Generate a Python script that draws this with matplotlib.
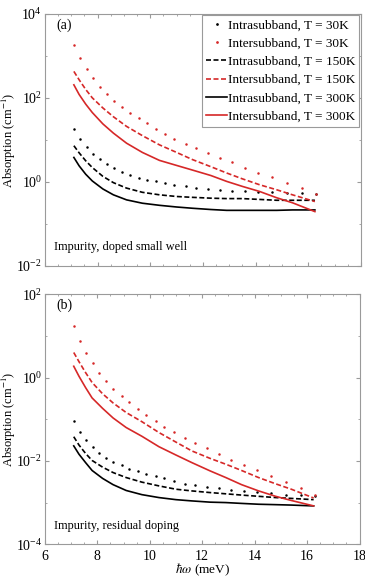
import numpy as np
import matplotlib
matplotlib.use('Agg')
import matplotlib.pyplot as plt
from matplotlib.ticker import LogLocator, MultipleLocator, NullFormatter

plt.rcParams['font.family'] = ['Liberation Serif', 'DejaVu Serif']
plt.rcParams['mathtext.fontset'] = 'stix'

# Energias (meV) das curvas continuas / tracejadas
x_linhas = [7.1, 7.3, 7.55, 7.8, 8.2, 8.6, 9.1, 9.7, 10.35, 11.0, 11.6, 12.3,
            12.9, 13.5, 14.15, 14.8, 15.4, 16.25]
# Energias (meV) dos pontos (T = 30K)
x_pontos = [7.10, 7.35, 7.58, 7.83, 8.08, 8.34, 8.61, 8.93, 9.22, 9.56, 9.87,
            10.23, 10.56, 10.92, 11.36, 11.74, 12.18, 12.63, 13.11, 13.61,
            14.10, 14.64, 15.19, 15.75, 16.31]

# Painel (a): log10 da absorcao (cm^-1)
a_intra_30 = [1.26, 1.03, 0.84, 0.67, 0.54, 0.42, 0.32, 0.23, 0.16, 0.10, 0.05,
              0.01, -0.03, -0.07, -0.11, -0.15, -0.17, -0.19, -0.21, -0.23,
              -0.25, -0.25, -0.27, -0.27, -0.29]
a_inter_30 = [3.26, 2.96, 2.69, 2.47, 2.27, 2.10, 1.93, 1.78, 1.65, 1.52, 1.39,
              1.26, 1.14, 1.02, 0.90, 0.80, 0.68, 0.57, 0.46, 0.34, 0.22, 0.11,
              -0.02, -0.15, -0.29]
a_intra_150 = [0.86, 0.69, 0.50, 0.34, 0.13, -0.02, -0.15, -0.25, -0.31, -0.35,
               -0.37, -0.39, -0.40, -0.40, -0.42, -0.44, -0.44, -0.44]
a_inter_150 = [2.63, 2.43, 2.20, 2.00, 1.76, 1.55, 1.32, 1.10, 0.88, 0.70, 0.53,
               0.36, 0.21, 0.07, -0.07, -0.19, -0.31, -0.47]
a_intra_300 = [0.58, 0.38, 0.18, 0.02, -0.17, -0.31, -0.43, -0.51, -0.56, -0.60,
               -0.63, -0.66, -0.68, -0.68, -0.68, -0.68, -0.67, -0.67]
a_inter_300 = [2.31, 2.08, 1.85, 1.65, 1.38, 1.16, 0.92, 0.70, 0.51, 0.39, 0.28,
               0.15, 0.01, -0.11, -0.23, -0.38, -0.50, -0.71]

# Painel (b): log10 da absorcao (cm^-1)
b_intra_30 = [-1.04, -1.30, -1.51, -1.66, -1.80, -1.92, -2.02, -2.11, -2.19,
              -2.25, -2.31, -2.36, -2.42, -2.49, -2.55, -2.59, -2.63, -2.66,
              -2.70, -2.73, -2.75, -2.78, -2.81, -2.82, -2.84]
b_inter_30 = [1.24, 0.87, 0.58, 0.34, 0.12, -0.09, -0.28, -0.44, -0.59, -0.75,
              -0.91, -1.05, -1.19, -1.30, -1.44, -1.56, -1.70, -1.83, -1.97,
              -2.10, -2.21, -2.36, -2.51, -2.65, -2.82]
b_intra_150 = [-1.42, -1.62, -1.82, -1.99, -2.15, -2.28, -2.40, -2.51, -2.60,
               -2.68, -2.72, -2.76, -2.79, -2.82, -2.85, -2.88, -2.90, -2.93]
b_inter_150 = [0.60, 0.38, 0.12, -0.12, -0.39, -0.61, -0.84, -1.06, -1.32,
               -1.55, -1.76, -1.94, -2.08, -2.23, -2.40, -2.55, -2.68, -2.89]
b_intra_300 = [-1.64, -1.84, -2.04, -2.23, -2.42, -2.57, -2.71, -2.81, -2.88,
               -2.93, -2.96, -2.99, -3.00, -3.02, -3.04, -3.05, -3.06, -3.08]
b_inter_300 = [0.27, 0.03, -0.24, -0.49, -0.74, -0.97, -1.20, -1.41, -1.66,
               -1.86, -2.04, -2.24, -2.40, -2.57, -2.72, -2.85, -2.95, -3.08]

rotulos = ['Intrasubband, T = 30K', 'Intersubband, T = 30K',
           'Intrasubband, T = 150K', 'Intersubband, T = 150K',
           'Intrasubband, T = 300K', 'Intersubband, T = 300K']

VERMELHO = '#d62828'
CINZA = '#9a9a9a'


def desenha_painel(ax, series, ylim, letra, texto):
    intra30, inter30, intra150, inter150, intra300, inter300 = [10.0 ** np.array(s) for s in series]
    ax.plot(x_pontos, intra30, '.', color='black', ms=1.6, label=rotulos[0])
    ax.plot(x_pontos, inter30, '.', color=VERMELHO, ms=1.6, label=rotulos[1])
    ax.plot(x_linhas, intra150, '--', color='black', lw=1.2, dashes=(3, 1.5), label=rotulos[2])
    ax.plot(x_linhas, inter150, '--', color=VERMELHO, lw=1.2, dashes=(3, 1.5), label=rotulos[3])
    ax.plot(x_linhas, intra300, '-', color='black', lw=1.2, label=rotulos[4])
    ax.plot(x_linhas, inter300, '-', color=VERMELHO, lw=1.2, label=rotulos[5])
    ax.set_yscale('log')
    ax.set_xlim(6, 18)
    ax.set_ylim(*ylim)
    ax.yaxis.set_major_locator(LogLocator(base=100.0))
    ax.yaxis.set_minor_locator(LogLocator(base=10.0, numticks=20))
    ax.yaxis.set_minor_formatter(NullFormatter())
    ax.xaxis.set_major_locator(MultipleLocator(2))
    ax.xaxis.set_minor_locator(MultipleLocator(0.5))
    ax.tick_params(which='both', direction='in', top=True, right=True,
                   color=CINZA, labelsize=10, pad=2)
    ax.tick_params(axis='x', pad=4)
    ax.tick_params(which='major', length=3)
    ax.tick_params(which='minor', length=1.5)
    for sp in ax.spines.values():
        sp.set_color(CINZA)
    ax.set_ylabel('Absorption (cm$^{-1}$)', fontsize=9)
    ax.yaxis.set_label_coords(-0.085, 0.5)
    ax.text(0.035, 0.955, letra, transform=ax.transAxes, fontsize=10, va='center')
    ax.text(0.03, 0.075, texto, transform=ax.transAxes, fontsize=8.8, va='center')


plt.ioff()
fig = plt.figure(figsize=(3.65, 5.79), dpi=100)
ax_a = fig.add_axes([0.123, 0.541, 0.866, 0.435])
ax_b = fig.add_axes([0.123, 0.060, 0.862, 0.432])

desenha_painel(ax_a, [a_intra_30, a_inter_30, a_intra_150, a_inter_150, a_intra_300, a_inter_300],
               (1e-2, 1e4), '(a)', 'Impurity, doped small well')
ax_a.tick_params(labelbottom=False)
leg = ax_a.legend(loc='upper right', fontsize=9.5, handlelength=1.6, handletextpad=0.05,
                  labelspacing=0.45, borderpad=0.3, borderaxespad=0.12, fancybox=False,
                  framealpha=1, markerscale=1.2)
leg.get_frame().set_edgecolor(CINZA)
leg.get_frame().set_linewidth(0.8)

desenha_painel(ax_b, [b_intra_30, b_inter_30, b_intra_150, b_inter_150, b_intra_300, b_inter_300],
               (1e-4, 1e2), '(b)', 'Impurity, residual doping')
ax_b.set_xlabel(r'$\hbar\omega$ (meV)', fontsize=9.5)
ax_b.xaxis.set_label_coords(0.5, -0.07)

fig.savefig('out.png', dpi=100)
